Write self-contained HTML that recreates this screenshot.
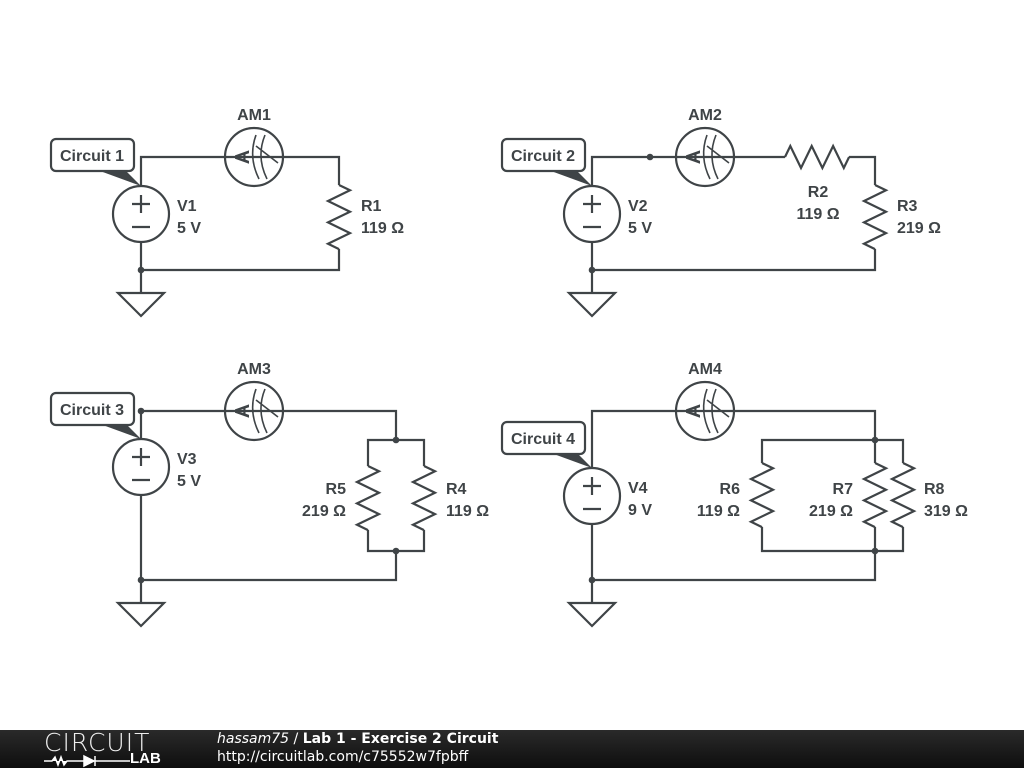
<!DOCTYPE html>
<html><head><meta charset="utf-8"><style>
body{margin:0;width:1024px;height:768px;background:#fff;overflow:hidden;font-family:"Liberation Sans",sans-serif}
svg{position:absolute;left:0;top:0}
.w{stroke:#3f4447;stroke-width:2.2;fill:none}
.t{font-family:"Liberation Sans",sans-serif;font-weight:bold;font-size:16px;fill:#3f4447}
#ft{position:absolute;left:0;top:730px;width:1024px;height:38px;background:linear-gradient(#2a2a2a,#0e0e0e);color:#fff;font-family:"DejaVu Sans",sans-serif}
</style></head><body>
<svg width="1024" height="730" viewBox="0 0 1024 730">
<defs>
<g id="am"><circle r="29" fill="#fff" class="w"/><text x="0" y="7" transform="translate(-12,0) rotate(-90)" text-anchor="middle" class="t" style="font-size:20px">A</text>
<path class="w" style="stroke-width:1.6" d="M2,-22 Q-6,0 5,22 M11,-22 Q2,0 13,22 M2,-11 L24,6"/></g>
<g id="vs"><circle r="28" fill="#fff" class="w"/><path class="w" d="M-9,-10 h18 M0,-19 v18 M-9,13 h18"/></g>
<g id="gnd"><path class="w" d="M-23,0 h46 l-23,23 z" fill="#fff"/></g>
<path id="rv" class="w" d="M0,0 l11,5.3 l-22,10.7 l22,10.7 l-22,10.7 l22,10.7 l-22,10.7 l11,5.3"/>
</defs>

<!-- Circuit 1 -->
<path class="w" d="M141,186 V157 H339 V185 M339,249 V270 H141 V293 M141,242 V270"/>
<use href="#rv" x="339" y="185"/>
<use href="#am" x="254" y="157"/>
<use href="#vs" x="141" y="214"/>
<use href="#gnd" x="141" y="293"/>
<circle cx="141" cy="270" r="3.3" fill="#3f4447"/>
<path d="M100,171 L126,171 L141,186 Z" fill="#3f4447"/>
<rect x="51" y="139" width="83" height="32" rx="5" fill="#fff" class="w"/>
<text x="92" y="161" class="t" text-anchor="middle">Circuit 1</text>
<text x="254" y="120" class="t" text-anchor="middle">AM1</text>
<text x="177" y="211" class="t">V1</text><text x="177" y="233" class="t">5 V</text>
<text x="361" y="211" class="t">R1</text><text x="361" y="233" class="t">119 Ω</text>

<!-- Circuit 2 -->
<path class="w" d="M592,186 V157 H785 M849,157 H875 V185 M875,249 V270 H592 V293 M592,242 V270"/>
<path class="w" d="M785,157 l5.3,-11 l10.7,22 l10.7,-22 l10.7,22 l10.7,-22 l10.7,22 l5.3,-11"/>
<use href="#rv" x="875" y="185"/>
<use href="#am" x="705" y="157"/>
<use href="#vs" x="592" y="214"/>
<use href="#gnd" x="592" y="293"/>
<circle cx="592" cy="270" r="3.3" fill="#3f4447"/>
<circle cx="650" cy="157" r="3.3" fill="#3f4447"/>
<path d="M551,171 L577,171 L592,186 Z" fill="#3f4447"/>
<rect x="502" y="139" width="83" height="32" rx="5" fill="#fff" class="w"/>
<text x="543" y="161" class="t" text-anchor="middle">Circuit 2</text>
<text x="705" y="120" class="t" text-anchor="middle">AM2</text>
<text x="628" y="211" class="t">V2</text><text x="628" y="233" class="t">5 V</text>
<text x="818" y="197" class="t" text-anchor="middle">R2</text><text x="818" y="219" class="t" text-anchor="middle">119 Ω</text>
<text x="897" y="211" class="t">R3</text><text x="897" y="233" class="t">219 Ω</text>

<!-- Circuit 3 -->
<path class="w" d="M141,439 V411 H396 V440 M368,466 V440 H424 V466 M368,530 V551 H424 V530 M396,551 V580 H141 V603 M141,495 V580"/>
<use href="#rv" x="368" y="466"/>
<use href="#rv" x="424" y="466"/>
<use href="#am" x="254" y="411"/>
<use href="#vs" x="141" y="467"/>
<use href="#gnd" x="141" y="603"/>
<circle cx="141" cy="580" r="3.3" fill="#3f4447"/>
<circle cx="141" cy="411" r="3.3" fill="#3f4447"/>
<circle cx="396" cy="440" r="3.3" fill="#3f4447"/>
<circle cx="396" cy="551" r="3.3" fill="#3f4447"/>
<path d="M100,424 L126,424 L141,439 Z" fill="#3f4447"/>
<rect x="51" y="393" width="83" height="32" rx="5" fill="#fff" class="w"/>
<text x="92" y="415" class="t" text-anchor="middle">Circuit 3</text>
<text x="254" y="374" class="t" text-anchor="middle">AM3</text>
<text x="177" y="464" class="t">V3</text><text x="177" y="486" class="t">5 V</text>
<text x="346" y="494" class="t" text-anchor="end">R5</text><text x="346" y="516" class="t" text-anchor="end">219 Ω</text>
<text x="446" y="494" class="t">R4</text><text x="446" y="516" class="t">119 Ω</text>

<!-- Circuit 4 -->
<path class="w" d="M592,468 V411 H875 V440 M762,463 V440 H903 V463 M875,440 V463 M762,527 V551 H903 V527 M875,527 V580 H592 V603 M592,524 V580"/>
<use href="#rv" x="762" y="463"/>
<use href="#rv" x="875" y="463"/>
<use href="#rv" x="903" y="463"/>
<use href="#am" x="705" y="411"/>
<use href="#vs" x="592" y="496"/>
<use href="#gnd" x="592" y="603"/>
<circle cx="592" cy="580" r="3.3" fill="#3f4447"/>
<circle cx="875" cy="440" r="3.3" fill="#3f4447"/>
<circle cx="875" cy="551" r="3.3" fill="#3f4447"/>
<path d="M551,453 L577,453 L592,468 Z" fill="#3f4447"/>
<rect x="502" y="422" width="83" height="32" rx="5" fill="#fff" class="w"/>
<text x="543" y="444" class="t" text-anchor="middle">Circuit 4</text>
<text x="705" y="374" class="t" text-anchor="middle">AM4</text>
<text x="628" y="493" class="t">V4</text><text x="628" y="515" class="t">9 V</text>
<text x="740" y="494" class="t" text-anchor="end">R6</text><text x="740" y="516" class="t" text-anchor="end">119 Ω</text>
<text x="853" y="494" class="t" text-anchor="end">R7</text><text x="853" y="516" class="t" text-anchor="end">219 Ω</text>
<text x="924" y="494" class="t">R8</text><text x="924" y="516" class="t">319 Ω</text>
</svg>
<div id="ft">
<div style="position:absolute;left:44px;top:0px;font-size:25px;letter-spacing:1px;font-weight:300;line-height:26px;color:#eee">CIRCUIT</div>
<svg width="140" height="14" style="left:42px;top:24px;position:absolute"><path d="M2,7 H10 l3,-4 l3,8 l3,-8 l3,8 l3,-4 H42 M42,2 L52,7 L42,12 Z M53,2 V12 M53,7 H88" stroke="#fff" stroke-width="1.5" fill="#fff"/></svg>
<div style="position:absolute;left:130px;top:20px;font-size:15px;font-weight:bold;color:#fff;font-family:'Liberation Sans',sans-serif">LAB</div>
<div style="position:absolute;left:217px;top:1px;font-size:14px"><i>hassam75</i> / <b>Lab 1 - Exercise 2 Circuit</b></div>
<div style="position:absolute;left:217px;top:19px;font-size:14px">http://circuitlab.com/c75552w7fpbff</div>
</div>
</body></html>
